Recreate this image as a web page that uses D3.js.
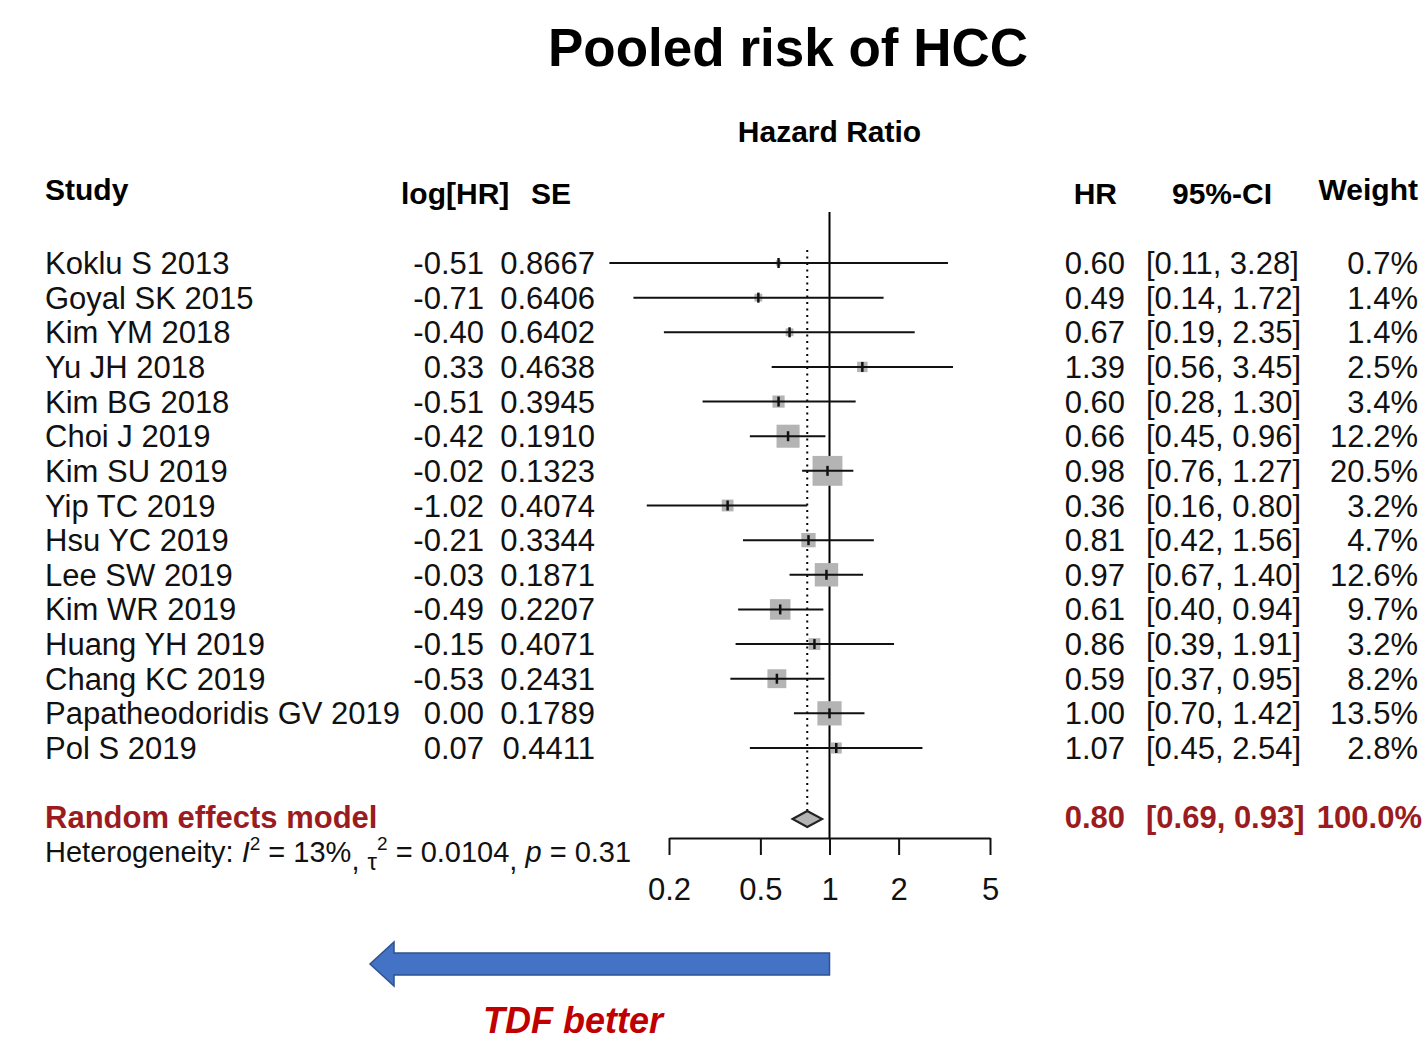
<!DOCTYPE html>
<html>
<head>
<meta charset="utf-8">
<script src="https://cdn.jsdelivr.net/npm/d3@7"></script>
<style>
  body { margin: 0; background: #fff; }
  text { font-family: "Liberation Sans", Arial, sans-serif; }
</style>
</head>
<body>
<div id="chart"></div>
<script>
// data
var studies = ["Koklu S 2013", "Goyal SK 2015", "Kim YM 2018", "Yu JH 2018", "Kim BG 2018",
  "Choi J 2019", "Kim SU 2019", "Yip TC 2019", "Hsu YC 2019", "Lee SW 2019",
  "Kim WR 2019", "Huang YH 2019", "Chang KC 2019", "Papatheodoridis GV 2019", "Pol S 2019"];
var logHR = [-0.51, -0.71, -0.40, 0.33, -0.51, -0.42, -0.02, -1.02, -0.21, -0.03, -0.49, -0.15, -0.53, 0.00, 0.07];
var seLog = [0.8667, 0.6406, 0.6402, 0.4638, 0.3945, 0.1910, 0.1323, 0.4074, 0.3344, 0.1871, 0.2207, 0.4071, 0.2431, 0.1789, 0.4411];
var hr = [0.60, 0.49, 0.67, 1.39, 0.60, 0.66, 0.98, 0.36, 0.81, 0.97, 0.61, 0.86, 0.59, 1.00, 1.07];
var ciLow = [0.11, 0.14, 0.19, 0.56, 0.28, 0.45, 0.76, 0.16, 0.42, 0.67, 0.40, 0.39, 0.37, 0.70, 0.45];
var ciHigh = [3.28, 1.72, 2.35, 3.45, 1.30, 0.96, 1.27, 0.80, 1.56, 1.40, 0.94, 1.91, 0.95, 1.42, 2.54];
var weight = [0.7, 1.4, 1.4, 2.5, 3.4, 12.2, 20.5, 3.2, 4.7, 12.6, 9.7, 3.2, 8.2, 13.5, 2.8];

var pooled = {hr: 0.80, lo: 0.69, hi: 0.93, w: 100.0};
var tickVals = [0.2, 0.5, 1, 2, 5];

var W = 1428, H = 1043;
var red = "#9b1c20";
var fs = 31;

var svg = d3.select("#chart").append("svg")
  .attr("width", W)
  .attr("height", H);

var x = d3.scaleLog().domain([0.2, 5]).range([669, 990]);
var y = d3.scalePoint().domain(studies).range([263, 748]);

// plain hyphen for negatives, like the R output
var loc = d3.formatLocale({decimal: ".", thousands: ",", grouping: [3], currency: ["", ""], minus: "-"});
var f2 = loc.format(".2f"), f4 = loc.format(".4f"), f1 = loc.format(".1f");

// title + headers
svg.append("text")
  .attr("x", 788).attr("y", 66)
  .attr("text-anchor", "middle")
  .attr("font-size", 53).attr("font-weight", "bold")
  .text("Pooled risk of HCC");

svg.append("text")
  .attr("x", x(1)).attr("y", 142)
  .attr("text-anchor", "middle")
  .attr("font-size", 30).attr("font-weight", "bold")
  .text("Hazard Ratio");

var headers = [
  {t: "Study", x: 45, y: 200, a: "start"},
  {t: "log[HR]", x: 401, y: 204, a: "start"},
  {t: "SE", x: 531, y: 204, a: "start"},
  {t: "HR", x: 1117, y: 204, a: "end"},
  {t: "95%-CI", x: 1222, y: 204, a: "middle"},
  {t: "Weight", x: 1418, y: 200, a: "end"}
];
svg.selectAll(".hdr").data(headers).enter().append("text")
  .attr("x", d => d.x).attr("y", d => d.y)
  .attr("text-anchor", d => d.a)
  .attr("font-size", 30).attr("font-weight", "bold")
  .text(d => d.t);

// reference lines
svg.append("line")
  .attr("x1", x(1)).attr("x2", x(1))
  .attr("y1", 212).attr("y2", 838)
  .attr("stroke", "#000").attr("stroke-width", 2);

svg.append("line")
  .attr("x1", x(pooled.hr)).attr("x2", x(pooled.hr))
  .attr("y1", 250).attr("y2", 811)
  .attr("stroke", "#000").attr("stroke-width", 2)
  .attr("stroke-dasharray", "2,4.5");

// study rows
var rows = svg.selectAll(".row").data(studies).enter().append("g")
  .attr("class", "row")
  .attr("transform", d => `translate(0, ${y(d)})`);

var half = i => 3.3 * Math.sqrt(weight[i]);

rows.append("rect")
  .attr("x", (d, i) => x(hr[i]) - half(i))
  .attr("y", (d, i) => -half(i))
  .attr("width", (d, i) => 2 * half(i))
  .attr("height", (d, i) => 2 * half(i))
  .attr("fill", "#b4b4b4");

rows.append("line")
  .attr("x1", (d, i) => x(ciLow[i]))
  .attr("x2", (d, i) => x(ciHigh[i]))
  .attr("stroke", "#111").attr("stroke-width", 2);

rows.append("line")
  .attr("x1", (d, i) => x(hr[i])).attr("x2", (d, i) => x(hr[i]))
  .attr("y1", -5).attr("y2", 5)
  .attr("stroke", "#111").attr("stroke-width", 2.5);

function col(sel, xp, anchor, fn) {
  sel.append("text")
    .attr("x", xp).attr("y", 11)
    .attr("text-anchor", anchor)
    .attr("font-size", fs)
    .attr("fill", "#111")
    .text(fn);
}
col(rows, 45, "start", d => d);
col(rows, 484, "end", (d, i) => f2(logHR[i]));
col(rows, 595, "end", (d, i) => f4(seLog[i]));
col(rows, 1125, "end", (d, i) => f2(hr[i]));
col(rows, 1146, "start", (d, i) => `[${f2(ciLow[i])}, ${f2(ciHigh[i])}]`);
col(rows, 1418, "end", (d, i) => f1(weight[i]) + "%");

// pooled estimate
var dy = 819;
svg.append("path")
  .attr("d", `M${x(pooled.lo)},${dy} L${x(pooled.hr)},${dy - 8} L${x(pooled.hi)},${dy} L${x(pooled.hr)},${dy + 8} Z`)
  .attr("fill", "#b4b4b4").attr("stroke", "#222").attr("stroke-width", 2);

var pooledTxt = [
  {t: "Random effects model", x: 45, a: "start"},
  {t: f2(pooled.hr), x: 1125, a: "end"},
  {t: `[${f2(pooled.lo)}, ${f2(pooled.hi)}]`, x: 1146, a: "start"},
  {t: f1(pooled.w) + "%", x: 1422, a: "end"}
];
svg.selectAll(".pool").data(pooledTxt).enter().append("text")
  .attr("x", d => d.x).attr("y", 828)
  .attr("text-anchor", d => d.a)
  .attr("font-size", fs).attr("font-weight", "bold")
  .attr("fill", red)
  .text(d => d.t);

// heterogeneity
var het = svg.append("text")
  .attr("x", 45).attr("y", 862)
  .attr("font-size", 29).attr("fill", "#111");
het.append("tspan").text("Heterogeneity: ");
het.append("tspan").attr("font-style", "italic").text("I");
het.append("tspan").attr("font-size", 19).attr("dy", -12).text("2");
het.append("tspan").attr("dy", 12).text(" = 13%");
het.append("tspan").attr("dy", 8).text(", ");
het.append("tspan").attr("font-size", 24).text("\u03c4");
het.append("tspan").attr("font-size", 19).attr("dy", -20).text("2");
het.append("tspan").attr("dy", 12).text(" = 0.0104");
het.append("tspan").attr("dy", 8).text(", ");
het.append("tspan").attr("dy", -8).attr("font-style", "italic").text("p");
het.append("tspan").text(" = 0.31");

// axis
var axis = svg.append("g")
  .attr("transform", "translate(0, 838)")
  .call(d3.axisBottom(x).tickValues(tickVals).tickFormat(d3.format("")).tickSize(17).tickSizeOuter(0).tickPadding(23));
axis.selectAll("path, line").attr("stroke", "#111").attr("stroke-width", 2);
axis.selectAll("text").attr("font-size", fs).attr("fill", "#111")
  .attr("font-family", "Liberation Sans, Arial, sans-serif");

// direction arrow
var ay = 964, tipX = 370, bodyX = 394;
svg.append("path")
  .attr("d", `M${x(1)},${ay - 11} L${bodyX},${ay - 11} L${bodyX},${ay - 22} L${tipX},${ay} L${bodyX},${ay + 22} L${bodyX},${ay + 11} L${x(1)},${ay + 11} Z`)
  .attr("fill", "#4472c4").attr("stroke", "#2f528f").attr("stroke-width", 1.5);

svg.append("text")
  .attr("x", 573).attr("y", 1033)
  .attr("text-anchor", "middle")
  .attr("font-size", 36).attr("font-weight", "bold").attr("font-style", "italic")
  .attr("fill", "#c00000")
  .text("TDF better");
</script>
</body>
</html>
